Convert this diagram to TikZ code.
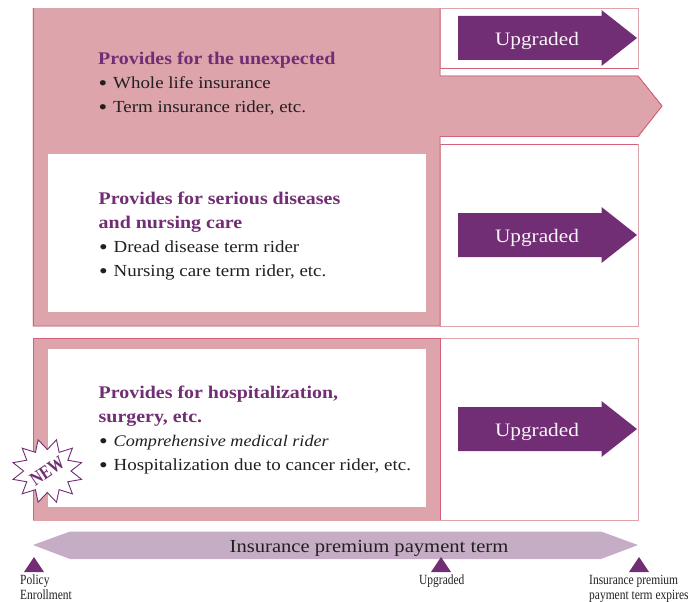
\documentclass[tikz,border=0pt]{standalone}
\usepackage{fontspec}
\setmainfont{Liberation Serif}[FakeStretch=1.12]
\newfontfamily\narrowf{Liberation Serif}[FakeStretch=0.82]
\usetikzlibrary{shapes.geometric}
\definecolor{pinkfill}{HTML}{DDA4AB}
\definecolor{pinkline}{HTML}{D4607A}
\definecolor{purp}{HTML}{722E74}
\definecolor{lilac}{HTML}{C6ADC6}
\definecolor{ink}{HTML}{231F20}
\newcommand{\blt}{\makebox[14.5pt][l]{\fontsize{22}{22}\selectfont\raisebox{-1.6pt}{•}}}
\tikzset{
  panel/.style={fill=pinkfill,draw=pinkline,line width=0.9pt},
  rbox/.style={fill=white,draw=pinkfill,line width=1pt},
  edge/.style={draw=pinkline,line width=0.9pt},
  hole/.style={fill=white,draw=none},
  upg/.style={fill=purp,draw=none},
  upgtext/.style={text=white!95!purp,font=\fontsize{19}{20}\selectfont,anchor=center,inner sep=0pt},
  head/.style={text=purp,font=\bfseries\fontsize{17.8}{24}\selectfont,anchor=base west,inner sep=0pt},
  item/.style={text=ink,font=\fontsize{16.9}{20}\selectfont,anchor=base west,inner sep=0pt},
  tick/.style={fill=purp,draw=none},
  small/.style={text=ink,font=\narrowf\fontsize{14}{15}\selectfont,anchor=base west,inner sep=0pt},
}
\begin{document}
\begin{tikzpicture}[x=1pt,y=-1pt]
\useasboundingbox (0,0) rectangle (697,602);
% right boxes
\draw[rbox] (440,8.5) rectangle (638,68.5);
\draw[rbox] (440,144.5) rectangle (638,326);
\draw[rbox] (440,338) rectangle (638,520);
\draw[edge] (440,68.5) -- (638,68.5);
\draw[edge] (440,144.5) -- (638,144.5);
% pink panels
\draw[panel,draw=pinkfill] (33,8.5) -- (440,8.5) -- (440,76) -- (638,76) -- (662,106) -- (638,136.5) -- (440,136.5) -- (440,326) -- (33,326) -- cycle;
\draw[panel,draw=pinkfill] (33,338) rectangle (440,520);
\draw[edge] (33,326) -- (33,8.5);
\draw[edge] (440,8.5) -- (440,76) -- (638,76) -- (662,106) -- (638,136.5) -- (440,136.5) -- (440,326) -- (33,326);
\draw[edge] (33,520) -- (33,338) -- (440,338) -- (440,520);
\fill[hole] (48,154) rectangle (426,312);
\fill[hole] (48,349) rectangle (426,507);
% Upgraded arrows
\foreach \nm/\c in {a/38,b/235,c/429}{
  \fill[upg] (458,\c-22) -- (601.5,\c-22) -- (601.5,\c-28) -- (637,\c) -- (601.5,\c+28) -- (601.5,\c+22) -- (458,\c+22) -- cycle;
  \node[upgtext] (up\nm) at (537,\c+3) {Upgraded};
}
% texts
\node[head] (h1) at (98,64.2) {Provides for the unexpected};
\node[item] (i1a) at (98.5,88.7) {\blt Whole life insurance};
\node[item] (i1b) at (98.5,112.7) {\blt Term insurance rider, etc.};
\node[head] (h2) at (98.5,204.7) {Provides for serious diseases};
\node[head] (h2b) at (98.5,228.7) {and nursing care};
\node[item] (i2a) at (99,252.7) {\blt Dread disease term rider};
\node[item] (i2b) at (99,276.7) {\blt Nursing care term rider, etc.};
\node[head] (h3) at (98.5,398.7) {Provides for hospitalization,};
\node[head] (h3b) at (98.5,422.7) {surgery, etc.};
\node[item] (i3a) at (99,446.7) {\blt{\fontsize{16.2}{20}\selectfont\textit{Comprehensive medical rider}}};
\node[item] (i3b) at (99,470.7) {\blt Hospitalization due to cancer rider, etc.};
% star
\node[star,star points=12,star point ratio=1.5,shape border rotate=15,minimum size=71pt,inner sep=0pt,draw=purp,fill=white,line width=0.9pt,yscale=0.91,transform shape] (st) at (47.3,471) {};
\node[rotate=34,text=purp,font=\narrowf\bfseries\fontsize{19}{18}\selectfont,inner sep=0pt] (nw) at (47.3,471) {NEW};
% term bar
\fill[lilac] (33,545) -- (70,531.5) -- (601,531.5) -- (638,545) -- (601,559) -- (70,559) -- cycle;
\node[text=ink,font=\fontsize{18.4}{20}\selectfont,inner sep=0pt] (term) at (369,548) {Insurance premium payment term};
% ticks
\fill[tick] (34,557) -- (44,572) -- (24,572) -- cycle;
\fill[tick] (441,557) -- (451,572) -- (431,572) -- cycle;
\fill[tick] (639,557) -- (649,572) -- (629,572) -- cycle;
\node[small] (l1) at (20,584) {Policy};
\node[small] (l1b) at (20,599) {Enrollment};
\node[small] (l2) at (419,584) {Upgraded};
\node[small] (l3) at (589,584) {Insurance premium};
\node[small] (l3b) at (589,599) {payment term expires};
\end{tikzpicture}
\end{document}
